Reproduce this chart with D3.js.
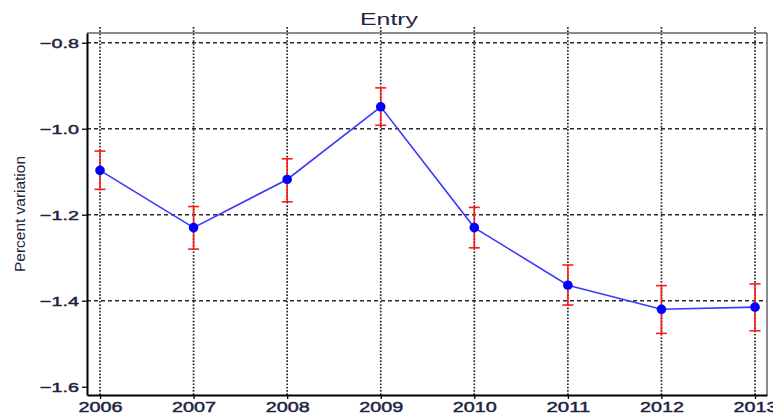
<!DOCTYPE html>
<html>
<head>
<meta charset="utf-8">
<script src="https://cdn.jsdelivr.net/npm/d3@7"></script>
<style>
  html, body { margin: 0; padding: 0; background: #fff; }
  svg { display: block; }
  text { font-family: "Liberation Sans", Arial, sans-serif; fill: #1c2440; }
</style>
</head>
<body>
<svg id="chart" width="773" height="417"></svg>
<script>
// Yearly estimates with confidence bounds
const years = [2006, 2007, 2008, 2009, 2010, 2011, 2012, 2013];
const estimate = [-1.097, -1.230, -1.118, -0.949, -1.230, -1.364, -1.420, -1.415];
const lower = [-1.141, -1.280, -1.170, -0.992, -1.277, -1.410, -1.476, -1.470];
const upper = [-1.052, -1.181, -1.070, -0.905, -1.183, -1.317, -1.365, -1.361];
const yTicks = [-0.8, -1.0, -1.2, -1.4, -1.6];
const yGrid = [-0.8, -1.0, -1.2, -1.4];
const titleText = "Entry";
const yLabelText = "Percent variation";

const width = 773, height = 417;
const margin = { top: 33, right: 6, bottom: 22, left: 87 };
const innerLeft = margin.left, innerRight = width - margin.right;
const innerTop = margin.top, innerBottom = height - margin.bottom;

const svg = d3.select("#chart");

const x = d3.scaleLinear()
  .domain([2005.861, 2013.128])
  .range([innerLeft, innerRight]);
const y = d3.scaleLinear()
  .domain([-1.6193, -0.7774])
  .range([innerBottom, innerTop]);

// Grid: dashed horizontals, dotted verticals
const grid = svg.append("g");
grid.selectAll("line.h").data(yGrid).join("line")
  .attr("x1", innerLeft).attr("x2", innerRight)
  .attr("y1", d => y(d)).attr("y2", d => y(d))
  .attr("stroke", "#2a2a2a").attr("stroke-width", 1.4)
  .attr("stroke-dasharray", "4,3");
grid.selectAll("line.v").data(years).join("line")
  .attr("x1", d => x(d)).attr("x2", d => x(d))
  .attr("y1", innerTop - 6).attr("y2", innerBottom)
  .attr("stroke", "#2a2a2a").attr("stroke-width", 1.7)
  .attr("stroke-dasharray", "1.7,1.6");

// Frame: grey top/right, black left/bottom
svg.append("line").attr("x1", innerLeft).attr("x2", innerRight)
  .attr("y1", innerTop).attr("y2", innerTop)
  .attr("stroke", "#666").attr("stroke-width", 1.5);
svg.append("line").attr("x1", innerRight).attr("x2", innerRight)
  .attr("y1", innerTop).attr("y2", innerBottom)
  .attr("stroke", "#666").attr("stroke-width", 1.5);

// Axes
const xAxis = svg.append("g")
  .attr("transform", `translate(0,${innerBottom})`)
  .call(d3.axisBottom(x).tickValues(years).tickFormat(d3.format("d")).tickSize(4).tickSizeOuter(0).tickPadding(3));
const yAxis = svg.append("g")
  .attr("transform", `translate(${innerLeft},0)`)
  .call(d3.axisLeft(y).tickValues(yTicks).tickFormat(d => d3.format(".1f")(d).replace("-", "\u2212")).tickSize(5).tickSizeOuter(0).tickPadding(3));

[xAxis, yAxis].forEach(a => {
  a.select(".domain").attr("stroke", "#000").attr("stroke-width", 2);
  a.selectAll(".tick line").attr("stroke", "#000").attr("stroke-width", 1.3);
  a.selectAll(".tick text")
    .attr("fill", "#1c2440")
    .attr("stroke", "#1c2440").attr("stroke-width", 0.45)
    .style("font-family", "\"Liberation Sans\", Arial, sans-serif")
    .attr("lengthAdjust", "spacingAndGlyphs");
});
xAxis.selectAll(".tick text")
  .attr("font-size", 14.5)
  .attr("textLength", 44);
yAxis.selectAll(".tick text")
  .attr("font-size", 13.5)
  .attr("textLength", 39);

// Connecting line
const points = years.map((yr, i) => ({ yr, v: estimate[i], lo: lower[i], hi: upper[i] }));
svg.append("path")
  .datum(points)
  .attr("fill", "none")
  .attr("stroke", "#3a3aff")
  .attr("stroke-width", 1.6)
  .attr("d", d3.line().x(d => x(d.yr)).y(d => y(d.v)));

// Error bars
const eb = svg.append("g").attr("stroke", "#ff1a1a").attr("stroke-width", 1.6);
const cap = 5.5;
eb.selectAll("line.stem").data(points).join("line")
  .attr("x1", d => x(d.yr)).attr("x2", d => x(d.yr))
  .attr("y1", d => y(d.lo)).attr("y2", d => y(d.hi));
eb.selectAll("line.top").data(points).join("line")
  .attr("x1", d => x(d.yr) - cap).attr("x2", d => x(d.yr) + cap)
  .attr("y1", d => y(d.hi)).attr("y2", d => y(d.hi));
eb.selectAll("line.bot").data(points).join("line")
  .attr("x1", d => x(d.yr) - cap).attr("x2", d => x(d.yr) + cap)
  .attr("y1", d => y(d.lo)).attr("y2", d => y(d.lo));

// Point markers
svg.append("g").selectAll("circle").data(points).join("circle")
  .attr("cx", d => x(d.yr)).attr("cy", d => y(d.v))
  .attr("r", 4.8)
  .attr("fill", "#0000ff");

// Title
svg.append("text")
  .attr("x", 389).attr("y", 24.5)
  .attr("text-anchor", "middle")
  .attr("font-size", 17)
  .attr("fill", "#26336e")
  .attr("textLength", 58).attr("lengthAdjust", "spacingAndGlyphs")
  .text(titleText);

// Y axis label
svg.append("text")
  .attr("transform", "translate(25,214) rotate(-90)")
  .attr("text-anchor", "middle")
  .attr("font-size", 14)
  .attr("textLength", 116).attr("lengthAdjust", "spacingAndGlyphs")
  .text(yLabelText);
</script>
</body>
</html>
